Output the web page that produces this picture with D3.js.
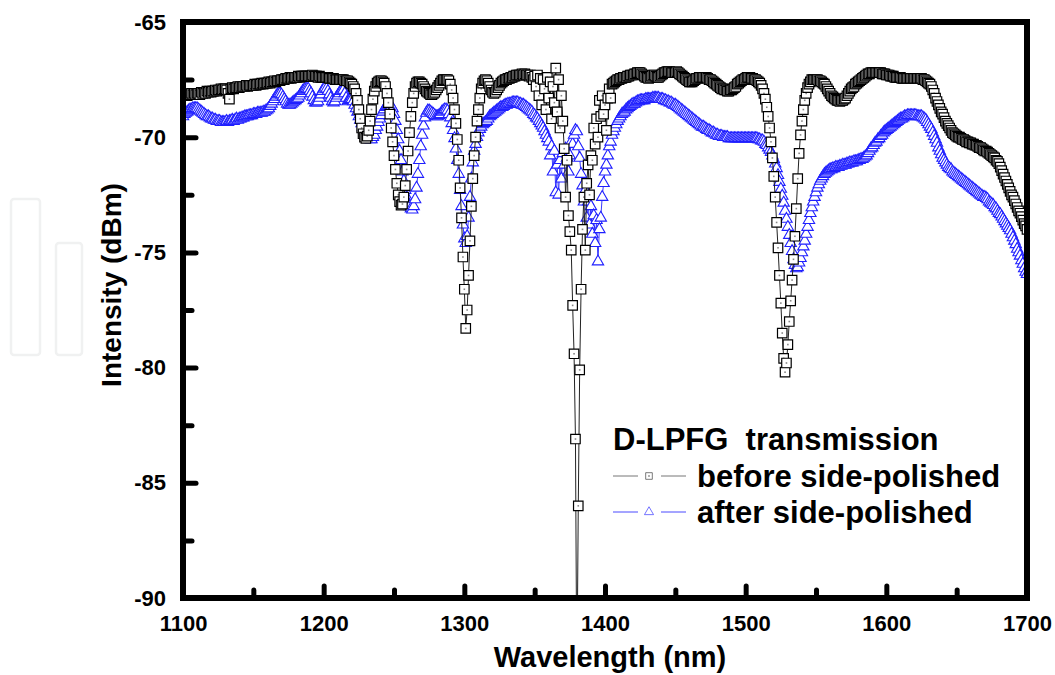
<!DOCTYPE html>
<html>
<head>
<meta charset="utf-8">
<script src="https://cdn.jsdelivr.net/npm/d3@7"></script>
<style>
html, body { margin: 0; padding: 0; background: #fff; }
svg { display: block; font-family: "Liberation Sans", Arial, sans-serif; font-weight: bold; }
</style>
</head>
<body>
<svg id="chart" width="1055" height="675"></svg>
<script>
// ---------------- DATA ----------------
const wavelengthStart = 1100;   // nm, first sample
const wavelengthStep = 1;       // nm between samples

// D-LPFG transmission before side-polishing (dBm), 1100..1700 nm
const beforePolished = [
-68.2,-68.2,-68.15,-68.2,-68.15,-68.15,-68.1,-68.15,-68.1,-68.15,
-68.1,-68.1,-68.15,-68.05,-68.1,-68.05,-68.1,-68.0,-68.05,-68.0,
-68.05,-68.0,-68.0,-67.95,-68.0,-67.95,-67.95,-67.9,-67.95,-67.9,
-67.9,-67.95,-68.1,-68.35,-67.9,-67.85,-67.9,-67.85,-67.85,-67.8,
-67.85,-67.8,-67.8,-67.8,-67.8,-67.75,-67.8,-67.75,-67.75,-67.75,
-67.75,-67.7,-67.75,-67.7,-67.7,-67.7,-67.65,-67.7,-67.65,-67.65,
-67.65,-67.6,-67.65,-67.6,-67.6,-67.55,-67.6,-67.55,-67.55,-67.55,
-67.5,-67.5,-67.5,-67.45,-67.45,-67.45,-67.4,-67.45,-67.4,-67.4,
-67.4,-67.4,-67.35,-67.4,-67.35,-67.35,-67.35,-67.35,-67.35,-67.35,
-67.35,-67.35,-67.3,-67.35,-67.35,-67.35,-67.4,-67.35,-67.4,-67.4,
-67.4,-67.4,-67.4,-67.4,-67.45,-67.45,-67.45,-67.45,-67.5,-67.5,
-67.5,-67.5,-67.5,-67.5,-67.5,-67.55,-67.55,-67.55,-67.6,-67.65,
-67.7,-67.8,-67.9,-68.1,-68.4,-68.8,-69.2,-69.6,-69.85,-70.0,
-70.05,-69.95,-69.7,-69.3,-68.8,-68.35,-68.0,-67.8,-67.65,-67.6,
-67.55,-67.55,-67.6,-67.65,-67.8,-68.1,-68.5,-69.0,-69.6,-70.2,
-70.8,-71.4,-72.0,-72.5,-72.8,-72.95,-72.9,-72.6,-72.1,-71.4,
-70.6,-69.8,-69.1,-68.5,-68.1,-67.8,-67.65,-67.6,-67.6,-67.65,
-67.7,-67.8,-67.9,-68.0,-68.05,-68.1,-68.15,-68.15,-68.1,-68.05,
-67.95,-67.85,-67.75,-67.65,-67.55,-67.5,-67.5,-67.5,-67.5,-67.55,
-67.7,-67.95,-68.3,-68.8,-69.4,-70.1,-71.0,-72.2,-73.5,-75.2,
-76.6,-78.3,-77.5,-76.0,-74.5,-73.0,-71.8,-70.8,-70.0,-69.3,
-68.8,-68.3,-67.9,-67.65,-67.55,-67.5,-67.55,-67.65,-67.8,-67.95,
-68.05,-68.1,-68.05,-67.95,-67.85,-67.75,-67.65,-67.6,-67.55,-67.5,
-67.5,-67.45,-67.45,-67.4,-67.4,-67.35,-67.35,-67.3,-67.3,-67.3,
-67.3,-67.25,-67.3,-67.25,-67.3,-67.3,-67.35,-67.3,-67.4,-67.5,
-67.35,-67.8,-67.3,-68.2,-67.45,-68.6,-67.5,-67.9,-68.8,-67.4,
-68.3,-67.6,-69.2,-67.8,-68.5,-67.0,-68.9,-67.5,-69.6,-68.2,
-69.3,-70.5,-72.6,-71.0,-73.4,-74.1,-74.9,-77.3,-79.4,-83.1,
-94.0,-86.0,-80.1,-76.6,-74.0,-72.6,-74.9,-72.0,-71.2,-72.5,
-70.8,-71.0,-69.6,-70.3,-69.2,-70.0,-68.4,-69.1,-68.2,-69.0,
-68.6,-69.7,-68.3,-67.9,-68.3,-67.7,-67.65,-67.6,-67.55,-67.5,
-67.5,-67.45,-67.45,-67.4,-67.4,-67.4,-67.35,-67.35,-67.3,-67.3,
-67.3,-67.25,-67.25,-67.2,-67.2,-67.2,-67.25,-67.3,-67.35,-67.4,
-67.4,-67.45,-67.4,-67.35,-67.3,-67.3,-67.35,-67.4,-67.4,-67.35,
-67.3,-67.25,-67.2,-67.2,-67.15,-67.15,-67.15,-67.2,-67.2,-67.2,
-67.2,-67.15,-67.2,-67.25,-67.3,-67.35,-67.4,-67.45,-67.5,-67.55,
-67.6,-67.6,-67.6,-67.55,-67.5,-67.45,-67.45,-67.4,-67.4,-67.4,
-67.4,-67.4,-67.4,-67.45,-67.5,-67.5,-67.55,-67.6,-67.65,-67.7,
-67.75,-67.8,-67.85,-67.9,-67.9,-67.95,-67.95,-68.0,-68.0,-67.95,
-67.95,-67.9,-67.85,-67.8,-67.7,-67.65,-67.6,-67.55,-67.5,-67.5,
-67.45,-67.4,-67.4,-67.4,-67.45,-67.45,-67.5,-67.5,-67.55,-67.6,
-67.65,-67.75,-67.9,-68.1,-68.35,-68.7,-69.1,-69.6,-70.2,-70.9,
-71.7,-72.6,-73.7,-74.8,-76.0,-77.2,-78.5,-79.6,-80.2,-79.8,
-79.0,-78.0,-77.1,-76.2,-75.3,-74.3,-73.1,-71.8,-70.7,-69.9,
-69.3,-68.8,-68.4,-68.1,-67.85,-67.7,-67.6,-67.5,-67.5,-67.5,
-67.5,-67.5,-67.55,-67.55,-67.6,-67.65,-67.7,-67.8,-67.9,-68.0,
-68.1,-68.2,-68.25,-68.3,-68.35,-68.4,-68.4,-68.45,-68.4,-68.4,
-68.35,-68.3,-68.2,-68.1,-68.0,-67.9,-67.85,-67.8,-67.7,-67.65,
-67.6,-67.55,-67.5,-67.45,-67.4,-67.35,-67.3,-67.25,-67.25,-67.2,
-67.2,-67.2,-67.2,-67.2,-67.2,-67.2,-67.2,-67.25,-67.25,-67.25,
-67.3,-67.3,-67.3,-67.35,-67.35,-67.35,-67.4,-67.4,-67.4,-67.4,
-67.4,-67.45,-67.45,-67.45,-67.45,-67.45,-67.45,-67.45,-67.45,-67.45,
-67.45,-67.45,-67.45,-67.45,-67.45,-67.45,-67.5,-67.5,-67.55,-67.6,
-67.65,-67.7,-67.8,-67.95,-68.1,-68.3,-68.45,-68.6,-68.75,-68.9,
-69.0,-69.15,-69.3,-69.4,-69.5,-69.6,-69.7,-69.8,-69.85,-69.9,
-69.95,-70.0,-70.0,-70.05,-70.1,-70.1,-70.15,-70.2,-70.2,-70.25,
-70.25,-70.3,-70.3,-70.35,-70.35,-70.4,-70.45,-70.45,-70.5,-70.55,
-70.6,-70.6,-70.65,-70.7,-70.75,-70.8,-70.85,-70.9,-71.0,-71.05,
-71.15,-71.3,-71.45,-71.6,-71.75,-71.9,-72.05,-72.2,-72.35,-72.5,
-72.6,-72.75,-72.9,-73.05,-73.2,-73.3,-73.45,-73.6,-73.75,-73.85,
-74.0
];

// D-LPFG transmission after side-polishing (dBm), 1100..1700 nm
const afterPolished = [
-69.1,-69.0,-68.95,-68.9,-68.85,-68.8,-68.8,-68.75,-68.75,-68.75,
-68.75,-68.8,-68.85,-68.9,-68.95,-69.0,-69.05,-69.1,-69.1,-69.15,
-69.2,-69.2,-69.25,-69.25,-69.3,-69.3,-69.3,-69.35,-69.35,-69.35,
-69.35,-69.3,-69.35,-69.3,-69.3,-69.25,-69.3,-69.25,-69.2,-69.25,
-69.2,-69.2,-69.15,-69.15,-69.1,-69.1,-69.1,-69.05,-69.05,-69.05,
-69.0,-69.0,-69.0,-68.95,-68.95,-68.95,-68.95,-68.9,-68.9,-68.85,
-68.8,-68.75,-68.65,-68.55,-68.45,-68.35,-68.25,-68.15,-68.1,-68.1,
-68.15,-68.25,-68.35,-68.45,-68.55,-68.6,-68.6,-68.55,-68.5,-68.45,
-68.4,-68.35,-68.3,-68.2,-68.1,-68.0,-67.95,-67.9,-67.9,-67.9,
-68.0,-68.1,-68.25,-68.4,-68.5,-68.5,-68.45,-68.3,-68.15,-68.0,
-67.9,-67.85,-67.9,-68.0,-68.15,-68.3,-68.45,-68.5,-68.45,-68.3,
-68.2,-68.1,-68.0,-67.95,-67.95,-68.1,-68.3,-68.45,-68.4,-68.35,
-68.35,-68.45,-68.6,-68.75,-68.9,-69.1,-69.25,-69.4,-69.55,-69.7,
-69.85,-69.95,-70.05,-70.1,-70.1,-70.0,-69.9,-69.7,-69.55,-69.35,
-69.2,-69.05,-68.9,-68.8,-68.7,-68.65,-68.6,-68.6,-68.65,-68.75,
-69.0,-69.3,-69.7,-70.1,-70.6,-71.0,-71.5,-71.9,-72.3,-72.6,
-72.85,-73.0,-73.1,-73.15,-73.0,-72.7,-72.2,-71.6,-71.0,-70.4,
-69.9,-69.5,-69.15,-68.95,-68.85,-68.85,-68.9,-68.95,-69.0,-69.05,
-69.1,-69.1,-69.05,-69.0,-68.9,-68.85,-68.8,-68.8,-68.85,-69.0,
-69.15,-69.4,-69.7,-70.05,-70.5,-71.0,-71.6,-72.3,-73.0,-73.8,
-74.4,-74.6,-74.3,-73.5,-72.6,-71.8,-71.1,-70.6,-70.3,-70.0,
-69.8,-69.65,-69.55,-69.45,-69.4,-69.35,-69.3,-69.2,-69.1,-69.05,
-69.0,-68.95,-68.9,-68.85,-68.8,-68.75,-68.7,-68.7,-68.65,-68.6,
-68.6,-68.55,-68.55,-68.55,-68.5,-68.5,-68.5,-68.5,-68.5,-68.55,
-68.55,-68.6,-68.6,-68.65,-68.7,-68.75,-68.8,-68.85,-68.9,-69.0,
-69.05,-69.15,-69.2,-69.3,-69.4,-69.5,-69.6,-69.75,-69.9,-70.05,
-70.2,-70.8,-70.4,-71.5,-70.6,-72.4,-71.2,-72.5,-71.0,-71.8,
-70.7,-71.2,-70.5,-70.9,-71.5,-70.8,-70.2,-70.3,-69.9,-69.7,
-69.75,-70.4,-70.9,-71.6,-72.1,-72.8,-72.3,-73.5,-72.8,-73.8,
-73.0,-74.2,-73.4,-74.6,-73.6,-75.4,-74.0,-73.5,-72.6,-72.0,
-71.5,-71.2,-70.8,-70.4,-70.2,-69.9,-69.75,-69.6,-69.45,-69.3,
-69.2,-69.1,-69.0,-68.95,-68.9,-68.8,-68.75,-68.7,-68.65,-68.6,
-68.55,-68.55,-68.5,-68.45,-68.45,-68.4,-68.4,-68.4,-68.4,-68.35,
-68.35,-68.35,-68.35,-68.35,-68.3,-68.3,-68.3,-68.3,-68.3,-68.35,
-68.35,-68.35,-68.4,-68.4,-68.45,-68.45,-68.5,-68.5,-68.55,-68.6,
-68.6,-68.65,-68.7,-68.75,-68.8,-68.85,-68.9,-68.95,-69.0,-69.05,
-69.1,-69.15,-69.2,-69.25,-69.3,-69.35,-69.4,-69.45,-69.5,-69.55,
-69.55,-69.6,-69.65,-69.7,-69.7,-69.75,-69.8,-69.8,-69.85,-69.9,
-69.9,-69.95,-69.95,-69.95,-70.0,-70.0,-70.0,-70.0,-70.05,-70.05,
-70.05,-70.05,-70.05,-70.05,-70.05,-70.05,-70.05,-70.05,-70.05,-70.05,
-70.05,-70.05,-70.05,-70.05,-70.05,-70.05,-70.05,-70.05,-70.05,-70.1,
-70.1,-70.15,-70.15,-70.2,-70.3,-70.35,-70.45,-70.55,-70.65,-70.8,
-70.95,-71.15,-71.35,-71.65,-71.95,-72.25,-72.55,-72.85,-73.2,-73.55,
-73.9,-74.25,-74.6,-74.95,-75.3,-75.55,-75.7,-75.65,-75.45,-75.25,
-75.0,-74.75,-74.5,-74.2,-73.9,-73.6,-73.3,-73.05,-72.8,-72.6,
-72.4,-72.2,-72.05,-71.9,-71.8,-71.7,-71.6,-71.55,-71.5,-71.45,
-71.4,-71.4,-71.35,-71.35,-71.3,-71.3,-71.3,-71.25,-71.25,-71.2,
-71.2,-71.2,-71.15,-71.15,-71.1,-71.1,-71.1,-71.05,-71.05,-71.05,
-71.0,-71.0,-70.95,-70.95,-70.9,-70.85,-70.8,-70.7,-70.6,-70.5,
-70.45,-70.35,-70.25,-70.2,-70.1,-70.05,-69.95,-69.9,-69.8,-69.75,
-69.7,-69.65,-69.6,-69.55,-69.5,-69.45,-69.4,-69.35,-69.3,-69.25,
-69.2,-69.2,-69.15,-69.1,-69.1,-69.05,-69.05,-69.05,-69.05,-69.05,
-69.05,-69.05,-69.1,-69.1,-69.1,-69.1,-69.15,-69.2,-69.25,-69.35,
-69.45,-69.55,-69.65,-69.8,-69.95,-70.1,-70.25,-70.45,-70.6,-70.75,
-70.9,-71.0,-71.1,-71.2,-71.3,-71.35,-71.4,-71.5,-71.55,-71.6,
-71.65,-71.7,-71.75,-71.8,-71.85,-71.9,-71.95,-72.0,-72.05,-72.1,
-72.15,-72.2,-72.25,-72.3,-72.35,-72.4,-72.45,-72.5,-72.55,-72.6,
-72.6,-72.65,-72.7,-72.8,-72.85,-72.9,-72.95,-73.05,-73.1,-73.2,
-73.3,-73.35,-73.45,-73.55,-73.65,-73.75,-73.85,-73.95,-74.05,-74.2,
-74.35,-74.5,-74.65,-74.85,-75.0,-75.15,-75.35,-75.5,-75.7,-75.85,
-75.95
];

const xTickValues = [1100, 1200, 1300, 1400, 1500, 1600, 1700];
const xMinorTickValues = [1150, 1250, 1350, 1450, 1550, 1650];
const yTickValues = [-65, -70, -75, -80, -85, -90];
const yMinorTickValues = [-67.5, -72.5, -77.5, -82.5, -87.5];
const xDomain = [1100, 1700];
const yDomain = [-65, -90];
const xTitle = "Wavelength (nm)";
const yTitle = "Intensity (dBm)";
const legendTitle = "D-LPFG  transmission";
const seriesNames = ["before side-polished", "after side-polished"];

// ---------------- DRAW ----------------
const svg = d3.select("#chart");
const plot = { left: 183, right: 1027, top: 22, bottom: 598 };

const x = d3.scaleLinear().domain(xDomain).range([plot.left, plot.right]);
const y = d3.scaleLinear().domain(yDomain).range([plot.top, plot.bottom]);

const wl = i => wavelengthStart + i * wavelengthStep;
const fmt = d => String(d);   // plain hyphen-minus, as in the original

// faint watermark shapes at the far left
const wm = svg.append("g").attr("fill", "none").attr("stroke", "#f0f1f1").attr("stroke-width", 2.5);
wm.append("rect").attr("x", 11).attr("y", 199).attr("width", 29).attr("height", 156).attr("rx", 3);
wm.append("rect").attr("x", 56).attr("y", 243).attr("width", 26).attr("height", 112).attr("rx", 3);

svg.append("defs").append("clipPath").attr("id", "plotClip")
  .append("rect")
  .attr("x", plot.left).attr("y", plot.top)
  .attr("width", plot.right - plot.left).attr("height", plot.bottom - plot.top);

const dataG = svg.append("g").attr("clip-path", "url(#plotClip)");

const lineGen = d3.line().x((d, i) => x(wl(i))).y(d => y(d));

const squarePath = d3.symbol(d3.symbolSquare, 90)();
const trianglePath = d3.symbol(d3.symbolTriangle, 56)();

const series = [
  { values: afterPolished, line: "#3a3aff", stroke: "#1f1fff", sw: 1.1, path: trianglePath, dot: false },
  { values: beforePolished, line: "#222", stroke: "#000", sw: 1.2, path: squarePath, dot: true }
];

series.forEach(s => {
  const g = dataG.append("g");
  g.append("path").datum(s.values)
    .attr("d", lineGen)
    .attr("fill", "none").attr("stroke", s.line).attr("stroke-width", 1);
  const m = g.selectAll("g.m").data(s.values).join("g")
    .attr("class", "m")
    .attr("transform", (d, i) => `translate(${x(wl(i))},${y(d)})`);
  m.append("path").attr("d", s.path)
    .attr("fill", "#fff").attr("stroke", s.stroke).attr("stroke-width", s.sw);
  if (s.dot) {
    m.append("rect").attr("x", -0.8).attr("y", -0.8).attr("width", 1.6).attr("height", 1.6)
      .attr("fill", "#888");
  }
});

// axes
function styleAxis(g) {
  g.select(".domain").remove();
  g.selectAll(".tick line").attr("stroke", "#000").attr("stroke-width", 5).attr("stroke-linecap", "round");
  g.selectAll(".tick text").attr("fill", "#000").attr("font-size", 22).attr("font-weight", "bold")
    .attr("font-family", "'Liberation Sans', Arial, sans-serif");
}

svg.append("g").attr("transform", `translate(0,${plot.bottom})`)
  .call(d3.axisBottom(x).tickValues(xMinorTickValues).tickSize(-8).tickFormat(""))
  .call(styleAxis);
svg.append("g").attr("transform", `translate(0,${plot.bottom})`)
  .call(d3.axisBottom(x).tickValues(xTickValues).tickSize(-12).tickPadding(17).tickFormat(fmt))
  .call(styleAxis);

svg.append("g").attr("transform", `translate(${plot.left},0)`)
  .call(d3.axisLeft(y).tickValues(yMinorTickValues).tickSize(-9).tickFormat(""))
  .call(styleAxis);
svg.append("g").attr("transform", `translate(${plot.left},0)`)
  .call(d3.axisLeft(y).tickValues(yTickValues).tickSize(-13).tickPadding(17).tickFormat(fmt))
  .call(styleAxis);

// frame
svg.append("rect")
  .attr("x", plot.left).attr("y", plot.top)
  .attr("width", plot.right - plot.left).attr("height", plot.bottom - plot.top)
  .attr("fill", "none").attr("stroke", "#000").attr("stroke-width", 6);

// axis titles
svg.append("text")
  .attr("x", (plot.left + plot.right) / 2 + 5).attr("y", 667)
  .attr("text-anchor", "middle").attr("font-size", 29).attr("fill", "#000")
  .text(xTitle);

svg.append("text")
  .attr("transform", "translate(121,285) rotate(-90)")
  .attr("text-anchor", "middle").attr("font-size", 28).attr("fill", "#000")
  .text(yTitle);

// legend
const lg = svg.append("g");
lg.append("text").attr("x", 613).attr("y", 450).attr("font-size", 31).attr("fill", "#000")
  .style("white-space", "pre").text(legendTitle);

const legendRows = [
  { name: seriesNames[0], y: 476, base: 487, line: "#777", stroke: "#444", path: squarePath, dot: true, scale: 0.7 },
  { name: seriesNames[1], y: 512, base: 523, line: "#4a4aff", stroke: "#5050ff", path: trianglePath, dot: false, scale: 0.8 }
];
legendRows.forEach(r => {
  lg.append("line").attr("x1", 613).attr("x2", 638).attr("y1", r.y).attr("y2", r.y).attr("stroke", r.line).attr("stroke-width", 1);
  lg.append("line").attr("x1", 661).attr("x2", 686).attr("y1", r.y).attr("y2", r.y).attr("stroke", r.line).attr("stroke-width", 1);
  lg.append("path").attr("d", r.path).attr("transform", `translate(649,${r.y}) scale(${r.scale})`)
    .attr("fill", "#fff").attr("stroke", r.stroke).attr("stroke-width", 1);
  if (r.dot) lg.append("rect").attr("x", 648.2).attr("y", r.y - 0.8).attr("width", 1.6).attr("height", 1.6).attr("fill", "#888");
  lg.append("text").attr("x", 697).attr("y", r.base).attr("font-size", 31).attr("fill", "#000").text(r.name);
});
</script>
</body>
</html>
